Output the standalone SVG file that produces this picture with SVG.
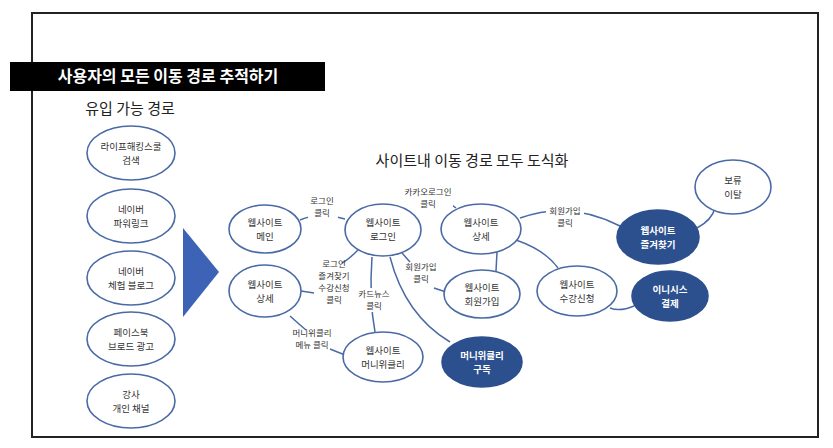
<svg xmlns="http://www.w3.org/2000/svg" width="833" height="448" viewBox="0 0 833 448">
<style>
text{font-family:"Noto Sans CJK KR","Noto Sans",sans-serif;text-anchor:middle}
.n{fill:#fff;stroke:#4a6aa6;stroke-width:1.6}
.f{fill:#2c4f8e;stroke:#2c4f8e;stroke-width:1.6}
.t{font-size:9.5px;fill:#333}
.tw{font-size:9.5px;fill:#fff;font-weight:bold}
.l{font-size:8.5px;fill:#333}
.e{fill:none;stroke:#4a6aa6;stroke-width:1.5}
</style>
<rect x="0" y="0" width="833" height="448" fill="#fff"/>
<rect x="32" y="13" width="786" height="424" fill="none" stroke="#222" stroke-width="2"/>
<g id="title">
<rect x="10" y="62" width="315" height="29" fill="#000"/>
<text x="168" y="82" font-size="16" font-weight="bold" fill="#fff">사용자의 모든 이동 경로 추적하기</text>
</g>
<text x="130" y="114" font-size="15" fill="#222">유입 가능 경로</text>
<text x="472" y="166" font-size="15" fill="#222">사이트내 이동 경로 모두 도식화</text>
<g id="src1"><ellipse class="n" cx="131" cy="153" rx="44" ry="27"/><text class="t" x="131" y="150">라이프해킹스쿨</text><text class="t" x="131" y="164">검색</text></g>
<g id="src2"><ellipse class="n" cx="131" cy="216" rx="44" ry="27"/><text class="t" x="131" y="213">네이버</text><text class="t" x="131" y="227">파워링크</text></g>
<g id="src3"><ellipse class="n" cx="131" cy="278" rx="44" ry="27"/><text class="t" x="131" y="275">네이버</text><text class="t" x="131" y="289">체험 블로그</text></g>
<g id="src4"><ellipse class="n" cx="131" cy="339" rx="44" ry="27"/><text class="t" x="131" y="336">페이스북</text><text class="t" x="131" y="350">브로드 광고</text></g>
<g id="src5"><ellipse class="n" cx="131" cy="401" rx="44" ry="27"/><text class="t" x="131" y="398">강사</text><text class="t" x="131" y="412">개인 채널</text></g>
<g id="arrow"><polygon points="183,228 219,272 183,317" fill="#3c63b5"/></g>
<g id="edges">
<path class="e" d="M300,220 Q318,212 345,219"/>
<path class="e" d="M404,208 Q428,186 456,208"/>
<path class="e" d="M358,250 Q348,260 342,263"/>
<path class="e" d="M314,293 L301,291"/>
<path class="e" d="M372,257 Q369,300 375,332"/>
<path class="e" d="M390,257 Q405,315 450,342"/>
<path class="e" d="M402,253 L410,262"/>
<path class="e" d="M434,288 L446,292"/>
<path class="e" d="M497,252 L496,271"/>
<path class="e" d="M516,240 Q545,250 558,268"/>
<path class="e" d="M520,218 Q570,200 620,226"/>
<path class="e" d="M610,308 Q620,312 634,306"/>
<path class="e" d="M697,228 Q712,220 715,208"/>
<path class="e" d="M290,316 Q300,325 306,330"/>
<path class="e" d="M330,349 L345,355"/>
</g>
<g id="lbl">
<rect x="308" y="196" width="30" height="24" fill="#fff"/>
<text class="l" x="322" y="204">로그인</text><text class="l" x="322" y="216">클릭</text>
<rect x="403" y="186" width="50" height="24" fill="#fff"/>
<text class="l" x="428" y="195">카카오로그인</text><text class="l" x="428" y="207">클릭</text>
<text class="l" x="334" y="267">로그인</text><text class="l" x="334" y="279">즐겨찾기</text><text class="l" x="334" y="291">수강신청</text><text class="l" x="334" y="303">클릭</text>
<rect x="357" y="288" width="36" height="24" fill="#fff"/>
<text class="l" x="374" y="297">카드뉴스</text><text class="l" x="374" y="309">클릭</text>
<text class="l" x="421" y="270">회원가입</text><text class="l" x="421" y="282">클릭</text>
<rect x="546" y="204" width="38" height="24" fill="#fff"/>
<text class="l" x="565" y="214">회원가입</text><text class="l" x="565" y="226">클릭</text>
<text class="l" x="312" y="336">머니위클리</text><text class="l" x="312" y="348">메뉴 클릭</text>
</g>
<g id="main"><ellipse class="n" cx="265" cy="229" rx="36" ry="24"/><text class="t" x="265" y="226">웹사이트</text><text class="t" x="265" y="240">메인</text></g>
<g id="login"><ellipse class="n" cx="383" cy="230" rx="38" ry="26"/><text class="t" x="383" y="226">웹사이트</text><text class="t" x="383" y="240">로그인</text></g>
<g id="detail1"><ellipse class="n" cx="481" cy="229" rx="40" ry="25"/><text class="t" x="481" y="226">웹사이트</text><text class="t" x="481" y="240">상세</text></g>
<g id="detail2"><ellipse class="n" cx="265" cy="291" rx="36" ry="26"/><text class="t" x="265" y="288">웹사이트</text><text class="t" x="265" y="302">상세</text></g>
<g id="join"><ellipse class="n" cx="482" cy="294" rx="38" ry="24"/><text class="t" x="482" y="291">웹사이트</text><text class="t" x="482" y="305">회원가입</text></g>
<g id="apply"><ellipse class="n" cx="577" cy="291" rx="40" ry="25"/><text class="t" x="577" y="288">웹사이트</text><text class="t" x="577" y="302">수강신청</text></g>
<g id="money"><ellipse class="n" cx="383" cy="357" rx="40" ry="25"/><text class="t" x="383" y="354">웹사이트</text><text class="t" x="383" y="368">머니위클리</text></g>
<g id="sub"><ellipse class="f" cx="482" cy="362" rx="40" ry="25"/><text class="tw" x="482" y="359">머니위클리</text><text class="tw" x="482" y="373">구독</text></g>
<g id="fav"><ellipse class="f" cx="658" cy="237" rx="41" ry="27"/><text class="tw" x="658" y="234">웹사이트</text><text class="tw" x="658" y="248">즐겨찾기</text></g>
<g id="pay"><ellipse class="f" cx="670" cy="296" rx="38" ry="25"/><text class="tw" x="670" y="293">이니시스</text><text class="tw" x="670" y="307">결제</text></g>
<g id="leave"><ellipse class="n" cx="733" cy="187" rx="38" ry="27"/><text class="t" x="733" y="184">보류</text><text class="t" x="733" y="198">이탈</text></g>
</svg>
